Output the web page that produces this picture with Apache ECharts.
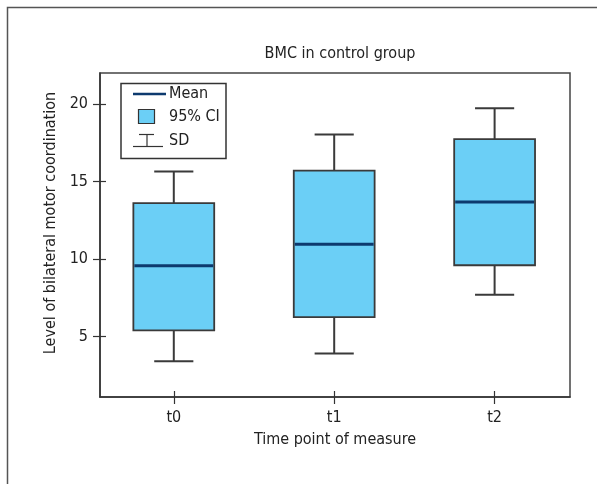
<!DOCTYPE html>
<html>
<head>
<meta charset="utf-8">
<script src="https://cdn.jsdelivr.net/npm/echarts@6/dist/echarts.min.js"></script>
<style>
html,body{margin:0;padding:0;background:#fff;}
#chart{width:597px;height:484px;}
</style>
</head>
<body>
<div id="chart"></div>
<script>
const categories = ['t0', 't1', 't2'];
const sdLow  = [3.4, 3.9, 7.7];
const ciLow  = [5.4, 6.25, 9.6];
const means  = [9.56, 10.96, 13.68];
const ciHigh = [13.6, 15.7, 17.73];
const sdHigh = [15.65, 18.03, 19.72];
const yTicks = [5, 10, 15, 20];

const FONT = '"Liberation Sans Narrow", "DejaVu Sans Condensed", sans-serif';
const TXT = '#222';
const data = categories.map((c, i) => [i, sdLow[i], ciLow[i], means[i], ciHigh[i], sdHigh[i]]);

const GRID = {left: 100, right: 27, top: 73, bottom: 87};
const plotW = 597 - GRID.left - GRID.right;
const plotH = 484 - GRID.top - GRID.bottom;

const chart = echarts.init(document.getElementById('chart'), null, {renderer: 'canvas'});
chart.setOption({
  animation: false,
  backgroundColor: '#fff',
  title: {
    text: 'BMC in control group',
    left: 335, top: 41, textAlign: 'center',
    textStyle: {fontFamily: FONT, fontSize: 16, fontWeight: 'normal', color: TXT}
  },
  grid: Object.assign({show: true, borderColor: '#444', borderWidth: 1.5, backgroundColor: 'transparent'}, GRID),
  xAxis: [{
    type: 'value', min: -0.46, max: 2.47, position: 'bottom',
    name: 'Time point of measure', nameLocation: 'middle', nameGap: 35,
    nameTextStyle: {fontFamily: FONT, fontSize: 16, color: TXT},
    axisLine: {show: true, onZero: false, lineStyle: {color: '#333', width: 1.5}},
    axisTick: {show: true, customValues: [0, 1, 2], length: 7, lineStyle: {color: '#333', width: 1.2}},
    axisLabel: {customValues: [0, 1, 2], formatter: v => categories[Math.round(v)], margin: 13, fontFamily: FONT, fontSize: 16, color: TXT},
    splitLine: {show: false}
  }, {
    type: 'value', min: -0.46, max: 2.47, position: 'top', offset: -plotH,
    axisLine: {show: false, onZero: false},
    axisTick: {show: true, inside: false, customValues: [0, 1, 2], length: 6, lineStyle: {color: '#333', width: 1.2}},
    axisLabel: {show: false}, splitLine: {show: false}
  }],
  yAxis: [{
    type: 'value', min: 1.1, max: 22, position: 'left',
    name: 'Level of bilateral motor coordination', nameLocation: 'middle', nameGap: 35,
    nameTextStyle: {fontFamily: FONT, fontSize: 16, color: TXT, padding: [0, 0, 0, 24]},
    axisLine: {show: true, onZero: false, lineStyle: {color: '#333', width: 1.5}},
    axisTick: {show: true, customValues: yTicks, length: 7, lineStyle: {color: '#333', width: 1.2}},
    axisLabel: {customValues: yTicks, margin: 12, fontFamily: FONT, fontSize: 16, color: TXT},
    splitLine: {show: false}
  }, {
    type: 'value', min: 1.1, max: 22, position: 'right', offset: -plotW,
    axisLine: {show: false, onZero: false},
    axisTick: {show: true, inside: false, customValues: yTicks, length: 6, lineStyle: {color: '#333', width: 1.2}},
    axisLabel: {show: false}, splitLine: {show: false}
  }],
  graphic: [
    {type: 'rect', shape: {x: 7.5, y: 7.5, width: 700, height: 700}, style: {fill: 'none', stroke: '#555', lineWidth: 1.5}, z: 0},
    {type: 'rect', shape: {x: 121, y: 83.5, width: 105, height: 75}, style: {fill: '#fff', stroke: '#333', lineWidth: 1.5}, z: 10},
    {type: 'line', shape: {x1: 133, y1: 94, x2: 166, y2: 94}, style: {stroke: '#0d3a6e', lineWidth: 2.5}, z: 11},
    {type: 'text', x: 169, y: 94, style: {text: 'Mean', fontFamily: FONT, fontSize: 16, fill: TXT, verticalAlign: 'middle'}, z: 11},
    {type: 'rect', shape: {x: 138.5, y: 109.5, width: 16, height: 14}, style: {fill: '#6bcff6', stroke: '#333', lineWidth: 1.2}, z: 11},
    {type: 'text', x: 169, y: 117, style: {text: '95% CI', fontFamily: FONT, fontSize: 16, fill: TXT, verticalAlign: 'middle'}, z: 11},
    {type: 'line', shape: {x1: 139, y1: 134.5, x2: 154, y2: 134.5}, style: {stroke: '#333', lineWidth: 1.2}, z: 11},
    {type: 'line', shape: {x1: 147, y1: 134.5, x2: 147, y2: 146.5}, style: {stroke: '#333', lineWidth: 1.2}, z: 11},
    {type: 'line', shape: {x1: 133, y1: 146.5, x2: 163, y2: 146.5}, style: {stroke: '#333', lineWidth: 1.2}, z: 11},
    {type: 'text', x: 169, y: 141, style: {text: 'SD', fontFamily: FONT, fontSize: 16, fill: TXT, verticalAlign: 'middle'}, z: 11}
  ],
  series: [{
    type: 'custom',
    xAxisIndex: 0, yAxisIndex: 0,
    data: data,
    encode: {x: 0, y: [1, 2, 3, 4, 5]},
    renderItem: function (params, api) {
      const x = api.value(0);
      const pLo = api.coord([x, api.value(1)]);
      const pQ1 = api.coord([x, api.value(2)]);
      const pM = api.coord([x, api.value(3)]);
      const pQ3 = api.coord([x, api.value(4)]);
      const pHi = api.coord([x, api.value(5)]);
      const cx = pM[0];
      const halfW = api.size([0.252, 0])[0];
      const capHalf = api.size([0.122, 0])[0];
      const wStyle = {stroke: '#3a3a3a', lineWidth: 2};
      return {
        type: 'group',
        children: [
          {type: 'line', shape: {x1: cx, y1: pHi[1], x2: cx, y2: pQ3[1]}, style: wStyle},
          {type: 'line', shape: {x1: cx, y1: pLo[1], x2: cx, y2: pQ1[1]}, style: wStyle},
          {type: 'line', shape: {x1: cx - capHalf, y1: pHi[1], x2: cx + capHalf, y2: pHi[1]}, style: wStyle},
          {type: 'line', shape: {x1: cx - capHalf, y1: pLo[1], x2: cx + capHalf, y2: pLo[1]}, style: wStyle},
          {type: 'rect', shape: {x: cx - halfW, y: pQ3[1], width: 2 * halfW, height: pQ1[1] - pQ3[1]}, style: {fill: '#6bcff6', stroke: '#3a3a3a', lineWidth: 1.8}},
          {type: 'line', shape: {x1: cx - halfW + 1, y1: pM[1], x2: cx + halfW - 1, y2: pM[1]}, style: {stroke: '#0d3a6e', lineWidth: 3}}
        ]
      };
    }
  }]
});
</script>
</body>
</html>
